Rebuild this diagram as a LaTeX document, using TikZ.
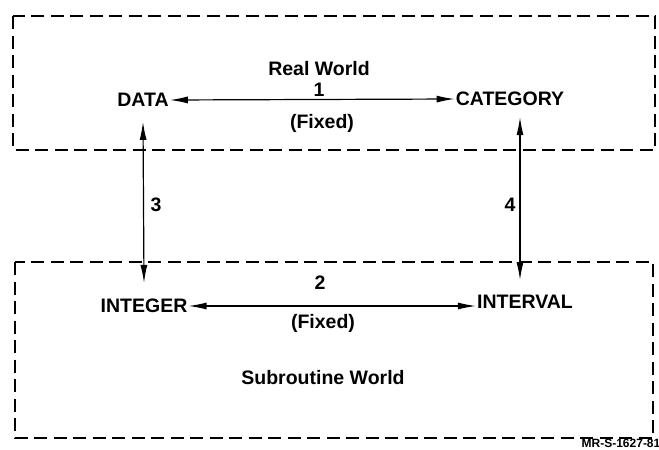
\documentclass[tikz,border=0pt]{standalone}
\usepackage{fontspec}
\setmainfont{Liberation Sans}
\usetikzlibrary{arrows.meta,calc}
\begin{document}
\begin{tikzpicture}[x=1pt,y=-1pt,
  dashbox/.style={line width=2pt,dash pattern=on 13pt off 6.5pt},
  lbl/.style={font=\fontsize{19.5}{22}\selectfont\bfseries,inner sep=1pt},
  small/.style={font=\fontsize{12}{14}\selectfont\bfseries,inner sep=0pt},
  conn/.style={line width=1.2pt,{Latex[length=18pt,width=7pt]}-{Latex[length=18pt,width=7pt]}}]
\useasboundingbox (0,0) rectangle (659,450);
\draw[dashbox] (13,16) rectangle (655,150);
\draw[dashbox] (15,262) rectangle (653,438);
\node[lbl] (data) at (143,100) {DATA};
\node[lbl] (cat) at (510,99) {CATEGORY};
\node[lbl] (int) at (144,306) {INTEGER};
\node[lbl] (ival) at (525,302) {INTERVAL};
\node[lbl] (rw) at (319,69) {Real World};
\node[lbl] (n1) at (319,90) {1};
\node[lbl] (f1) at (322,123) {(Fixed)};
\node[lbl] (n2) at (320,283) {2};
\node[lbl] (f2) at (323,323) {(Fixed)};
\node[lbl] (n3) at (156,205) {3};
\node[lbl] (n4) at (510,205) {4};
\node[lbl] (sw) at (323,378) {Subroutine World};
\node[small] (mr) at (621,443) {MR-S-1627-81};
\draw[conn] (data.east) -- (cat.west);
\draw[conn] (int.east) -- (ival.west |- int.east);
\draw[conn] ([yshift=-14pt]data.south) -- ([yshift=15pt]int.north);
\draw[conn] ($(cat.south)+(10,10)$) -- ($(ival.north)+(-5,-14)$);
\end{tikzpicture}
\end{document}
